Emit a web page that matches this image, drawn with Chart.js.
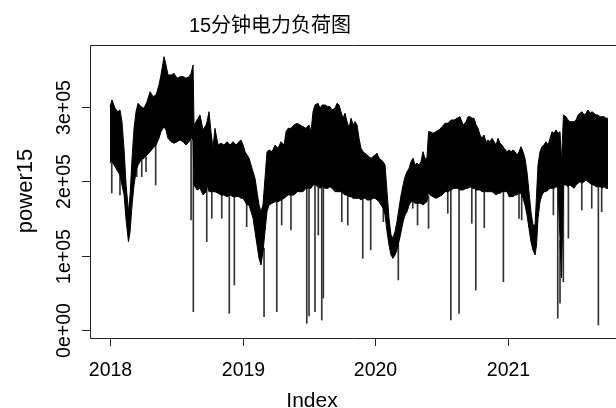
<!DOCTYPE html>
<html>
<head>
<meta charset="utf-8">
<script src="https://cdn.jsdelivr.net/npm/chart.js@4/dist/chart.umd.min.js"></script>
<style>
html,body{margin:0;padding:0;background:#fff;overflow:hidden;}
canvas{display:block;}
</style>
</head>
<body>
<canvas id="c" width="616" height="408"></canvas>
<script>
// ---- data (band envelope of the 15-min load series) ----
const years = [
2018.000,2018.015,2018.038,2018.060,2018.075,2018.090,2018.106,2018.121,2018.139,2018.151,
2018.166,2018.181,2018.196,2018.211,2018.234,2018.256,2018.279,2018.302,2018.324,2018.347,
2018.369,2018.384,2018.407,2018.422,2018.437,2018.460,2018.482,2018.505,2018.528,2018.550,
2018.573,2018.596,2018.611,2018.626,2018.633,2018.656,2018.678,2018.701,2018.724,2018.731,
2018.746,2018.761,2018.776,2018.791,2018.814,2018.837,2018.859,2018.882,2018.905,2018.927,
2018.950,2018.972,2018.987,2019.003,2019.018,2019.033,2019.048,2019.063,2019.078,2019.093,
2019.108,2019.123,2019.138,2019.153,2019.168,2019.183,2019.199,2019.221,2019.244,2019.266,
2019.289,2019.312,2019.327,2019.342,2019.364,2019.387,2019.410,2019.432,2019.455,2019.477,
2019.500,2019.515,2019.530,2019.545,2019.568,2019.583,2019.598,2019.621,2019.643,2019.658,
2019.673,2019.696,2019.711,2019.726,2019.741,2019.756,2019.771,2019.787,2019.802,2019.817,
2019.832,2019.847,2019.862,2019.877,2019.892,2019.907,2019.922,2019.937,2019.952,2019.967,
2019.982,2019.998,2020.013,2020.028,2020.043,2020.058,2020.073,2020.088,2020.103,2020.118,
2020.133,2020.148,2020.163,2020.178,2020.194,2020.209,2020.224,2020.239,2020.254,2020.269,
2020.284,2020.299,2020.314,2020.329,2020.344,2020.359,2020.374,2020.389,2020.401,2020.412,
2020.435,2020.457,2020.480,2020.503,2020.525,2020.548,2020.571,2020.593,2020.616,2020.638,
2020.661,2020.684,2020.699,2020.714,2020.729,2020.744,2020.759,2020.774,2020.789,2020.804,
2020.819,2020.834,2020.849,2020.864,2020.880,2020.895,2020.910,2020.925,2020.940,2020.955,
2020.970,2020.993,2021.008,2021.023,2021.038,2021.053,2021.068,2021.083,2021.098,2021.113,
2021.128,2021.143,2021.158,2021.173,2021.188,2021.204,2021.215,2021.226,2021.241,2021.256,
2021.271,2021.286,2021.302,2021.317,2021.332,2021.347,2021.362,2021.377,2021.392,2021.403,
2021.418,2021.437,2021.452,2021.467,2021.483,2021.498,2021.513,2021.528,2021.543,2021.558,
2021.573,2021.588,2021.603,2021.618,2021.633,2021.648,2021.663,2021.678,2021.694,2021.709,
2021.724,2021.739,2021.754
];
const upperLoad = [
300000,309000,297800,293200,295500,279800,241800,194800,158900,181300,
230600,270900,293200,304500,300000,297800,306700,320100,313400,315700,
329100,342500,367100,356000,342500,342500,344800,338100,340300,340300,
338100,340300,344800,356000,275400,282100,288800,268700,275400,279800,
293200,266400,244100,270900,248500,250800,248500,252900,248500,252900,
248500,252900,255200,248500,239500,235100,230600,221600,212600,203800,
185800,167900,158900,167900,203800,239500,241800,239500,248500,244100,
252900,248500,266400,270900,270900,275400,277700,275400,273100,270900,
275400,266400,293200,302200,304500,297800,302200,302200,300000,300000,
295500,297800,304500,302200,293200,284400,291100,279800,270900,284400,
275400,279800,275400,257500,244100,239500,237400,235100,232800,230600,
232800,235100,237400,230600,228400,226100,221600,185800,150000,127600,
123200,132000,145500,163500,181300,194800,205900,212600,217200,226100,
230600,221600,224300,221600,226100,239500,230600,230600,266400,266400,
264200,266400,268700,273100,277700,277700,282100,282100,284400,286500,
275400,279800,286500,286500,284400,284400,275400,270900,261900,257500,
261900,252900,255200,252900,257500,252900,248500,257500,250800,248500,
244100,239500,241800,239500,241800,239500,235100,239500,246200,239500,
230600,212600,185800,158900,141000,141000,181300,221600,239500,246200,
248500,252900,248500,257500,266400,264200,268700,264200,266400,226100,
288800,286500,282100,279800,279800,279800,282100,288800,291100,293200,
288800,291100,295500,291100,293200,291100,288800,288800,286500,286500,
286500,284400,284400
];
const lowerLoad = [
224300,226100,219400,212600,208200,194800,181300,147800,118600,132000,
167900,194800,212600,221600,228400,230600,235100,239500,244100,248500,
257500,266400,273100,268700,257500,252900,250800,252900,255200,252900,
248500,252900,257500,255200,194800,188100,190300,181300,185800,194800,
185800,185800,185800,185800,183600,181300,181300,179100,181300,179100,
179100,179100,176900,176900,172300,167900,167900,158900,150000,132000,
114200,96300,87300,105200,132000,158900,167900,170200,172300,172300,
174600,176900,179100,181300,181300,181300,185800,185800,185800,190300,
190300,190300,194800,194800,192500,190300,192500,190300,190300,192500,
190300,185800,185800,185800,185800,183600,181300,181300,179100,179100,
176900,176900,176900,176900,174600,176900,176900,174600,174600,174600,
176900,176900,174600,172300,167900,163500,154500,132000,114200,100700,
96300,100700,107500,118600,132000,145500,154500,158900,167900,172300,
172300,170200,170200,170200,170200,167900,170200,172300,185800,181300,
179100,176900,179100,181300,185800,185800,188100,190300,190300,188100,
188100,190300,190300,192500,190300,190300,188100,188100,188100,185800,
185800,185800,185800,185800,185800,183600,181300,183600,183600,185800,
185800,185800,179100,179100,179100,181300,181300,183600,183600,176900,
167900,154500,136600,118600,107500,100700,114200,150000,172300,181300,
185800,185800,188100,190300,190300,190300,192500,190300,120900,69900,
194800,194800,192500,194800,192500,190300,194800,197100,199200,197100,
199200,201500,199200,197100,194800,194800,192500,192500,192500,190300,
192500,190300,190300
];
// isolated downward dips: time, lowest value, value where the dip leaves the band
const spikeYears = [2018.013,2018.075,2018.201,2018.239,2018.271,2018.344,2018.611,2018.628,2018.729,2018.767,
2018.842,2018.899,2018.937,2019.030,2019.161,2019.257,2019.294,2019.364,2019.483,2019.500,
2019.545,2019.570,2019.596,2019.608,2019.747,2019.792,2019.905,2019.965,2020.060,2020.173,
2020.282,2020.318,2020.401,2020.546,2020.569,2020.631,2020.727,2020.757,2020.821,2020.965,
2021.083,2021.103,2021.342,2021.375,2021.392,2021.417,2021.455,2021.556,2021.631,2021.681,2021.706];
const spikeMin = [184000,181300,205900,205900,212600,194800,147800,24600,118600,150000,
150000,22400,60400,138800,17900,24600,141000,134300,9000,18800,
24600,127600,13400,43000,145500,141000,96300,107500,145500,67200,
163500,141000,136600,156800,13400,22400,143300,53700,137400,64900,
150000,147800,154500,15700,35900,64900,123200,161200,163500,6700,158900];
const spikeBase = [224000,208000,215000,228000,233000,248000,255000,255000,190000,186000,
181000,181000,179000,170000,110000,172000,175000,181000,190000,190000,
194000,192000,192000,191000,186000,181000,176000,174000,163000,115000,
172000,170000,180000,185000,188000,188000,190000,188000,185000,185000,
183000,183000,190000,190000,120000,194000,192000,197000,194000,192000,190000];

const xTickValues = [2018, 2019, 2020, 2021];
const xTickLabels = ['2018', '2019', '2020', '2021'];
const yTickValues = [0, 100000, 200000, 300000];
const yTickLabels = ['0e+00', '1e+05', '2e+05', '3e+05'];
const titleText = '15分钟电力负荷图';
const xLabel = 'Index';
const yLabel = 'power15';

const FONT = "'Liberation Sans', Arial, 'Noto Sans CJK SC', sans-serif";

const decor = {
  id: 'decor',
  afterDraw(chart) {
    const ctx = chart.ctx, a = chart.chartArea;
    const xs = chart.scales.x, ys = chart.scales.y;
    ctx.save();
    ctx.strokeStyle = '#222';
    ctx.lineWidth = 1;
    // plot box (right edge lies beyond the picture)
    ctx.beginPath();
    ctx.moveTo(a.right + 2, a.top + 0.5);
    ctx.lineTo(a.left + 0.5, a.top + 0.5);
    ctx.lineTo(a.left + 0.5, a.bottom + 0.5);
    ctx.lineTo(a.right + 2, a.bottom + 0.5);
    ctx.stroke();
    ctx.fillStyle = '#000';
    // y axis ticks + rotated labels
    ctx.font = "19.5px " + FONT;
    yTickValues.forEach((v, i) => {
      const y = Math.round(ys.getPixelForValue(v)) + 0.5;
      ctx.beginPath();
      ctx.moveTo(a.left - 8, y);
      ctx.lineTo(a.left, y);
      ctx.stroke();
      ctx.save();
      ctx.translate(70, y);
      ctx.rotate(-Math.PI / 2);
      ctx.textAlign = 'center';
      ctx.textBaseline = 'alphabetic';
      ctx.fillText(yTickLabels[i], 0, 0);
      ctx.restore();
    });
    // x axis ticks + labels
    xTickValues.forEach((v, i) => {
      const x = Math.round(xs.getPixelForValue(v)) + 0.5;
      ctx.beginPath();
      ctx.moveTo(x, a.bottom);
      ctx.lineTo(x, a.bottom + 8);
      ctx.stroke();
      ctx.textAlign = 'center';
      ctx.textBaseline = 'alphabetic';
      ctx.fillText(xTickLabels[i], x, 376);
    });
    // axis titles
    ctx.font = "21px " + FONT;
    ctx.textAlign = 'center';
    ctx.fillText(xLabel, 312, 406.5);
    ctx.save();
    ctx.font = "22px " + FONT;
    ctx.translate(32, 191);
    ctx.rotate(-Math.PI / 2);
    ctx.fillText(yLabel, 0, 0);
    ctx.restore();
    // main title
    ctx.font = "20px " + FONT;
    ctx.textBaseline = 'middle';
    ctx.fillText(titleText, 270, 26);
    ctx.restore();
  }
};

new Chart(document.getElementById('c').getContext('2d'), {
  type: 'line',
  data: {
    datasets: [
      {
        label: 'upper',
        data: years.map((t, i) => ({ x: t, y: upperLoad[i] })),
        borderColor: '#000', backgroundColor: '#000', borderWidth: 1,
        pointRadius: 0, tension: 0, fill: '+1'
      },
      {
        label: 'lower',
        data: years.map((t, i) => ({ x: t, y: lowerLoad[i] })),
        borderColor: '#000', backgroundColor: '#000', borderWidth: 1,
        pointRadius: 0, tension: 0, fill: false
      },
      {
        type: 'bar',
        label: 'dips',
        data: spikeYears.map((t, i) => ({ x: t, y: [spikeMin[i], spikeBase[i]] })),
        backgroundColor: '#333', borderWidth: 0, barThickness: 1
      }
    ]
  },
  options: {
    responsive: false,
    animation: false,
    devicePixelRatio: 1,
    layout: { padding: { left: 90, top: 45, right: 0, bottom: 70 } },
    scales: {
      x: { type: 'linear', min: 2017.849, max: 2021.814, display: false, offset: false },
      y: { type: 'linear', min: -10750, max: 382800, display: false }
    },
    plugins: { legend: { display: false }, title: { display: false }, tooltip: { enabled: false } }
  },
  plugins: [decor]
});
</script>
</body>
</html>
